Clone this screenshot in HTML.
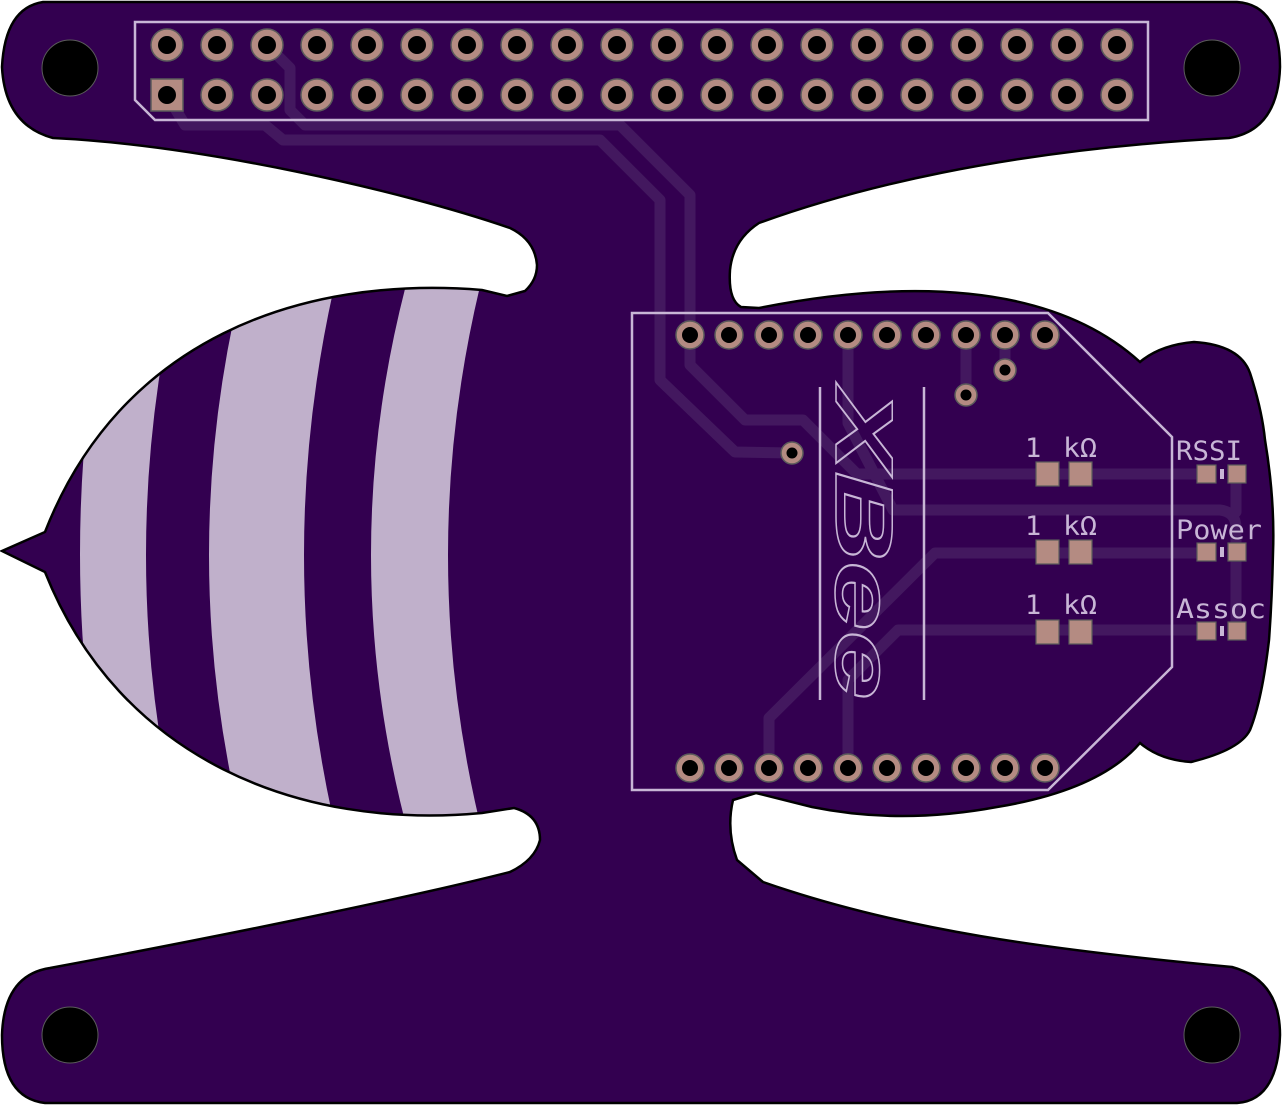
<!DOCTYPE html>
<html><head><meta charset="utf-8"><style>
html,body{margin:0;padding:0;background:#fff;}
svg{display:block;}
</style></head><body>
<svg width="1282" height="1105" viewBox="0 0 1282 1105" xmlns="http://www.w3.org/2000/svg">
<defs>
<clipPath id="bd"><path id="bp" d="M43,2 L1237,2 Q1280,5 1280,67 Q1278,130 1229,138 C1000,150 850,190 759,223 Q733,240 730,270 Q728,300 741,307 L759,308 C900,280 1050,280 1140,362 Q1160,345 1194,342 Q1240,345 1250,373 Q1262,410 1265,440 Q1275,500 1273,553 Q1272,600 1269,640 Q1262,700 1250,730 Q1240,750 1191,762 Q1160,760 1140,743 Q1100,790 997,807 Q900,825 812,807 L756,793 L733,800 Q726,830 737,860 L763,882 C900,930 1050,950 1232,967 Q1280,980 1280,1035 Q1278,1100 1237,1103 L45,1103 Q2,1098 2,1035 Q4,975 50,968 C200,940 400,900 510,872 Q535,860 540,840 Q540,815 514,808 L482,813 C300,830 120,760 45,572 L2,551 L45,532 C120,340 300,275 482,290 L507,296 L525,291 Q537,280 537,265 Q535,240 510,228 C400,190 200,145 53,138 Q5,125 2,67 Q5,8 43,2 Z"/></clipPath>
</defs>
<use href="#bp" fill="#330050"/>
<g clip-path="url(#bd)" fill="#c0b0cb">
<path d="M110 270 Q50 553 110 840 L180 840 Q112 555 180 270 Z"/>
<path d="M245 270 Q173 555 245 840 L338 840 Q270 555 338 270 Z"/>
<path d="M410 270 Q332 555 410 840 L484 840 Q412 555 484 270 Z"/>
</g>
<use href="#bp" fill="none" stroke="#000" stroke-width="2.5"/>

<g fill="none" stroke="#43185f" stroke-width="11" stroke-linejoin="round" stroke-linecap="round">
<path d="M167,95 L185,125 L265,125 L283,140 L600,140 L660,200 L660,380 L735,452 L792,453"/>
<path d="M267,45 L290,68 L290,110 L305,125 L620,125 L690,195 L690,365 L745,420 L803,420 L857,474 L1207,474"/>
<path d="M848,335 L848,423 L893,510 L1220,510 Q1236,512 1236,528 L1236,632"/>
<path d="M769,768 L769,718 L935,553 L1207,553"/>
<path d="M848,768 L848,680 L898,630 L1207,630"/>
<path d="M966,335 L966,395"/>
<path d="M1005,335 L1005,370"/>
<path d="M1236,474 L1236,512"/>
</g>

<g fill="none" stroke="#c8b6d6" stroke-width="2.5">
<path d="M135,22 L1148,22 L1148,120 L155,120 L135,100 Z"/>
<path d="M632,313 L1048,313 L1172,437 L1172,667 L1048,790 L632,790 Z"/>
<line x1="820" y1="387" x2="820" y2="700"/>
<line x1="924" y1="387" x2="924" y2="700"/>
</g>
<text transform="translate(836,388) rotate(90)" font-family="Liberation Sans, sans-serif" font-weight="bold" font-style="italic" font-size="82" fill="none" stroke="#c8b6d6" stroke-width="1.5" textLength="312" lengthAdjust="spacingAndGlyphs">XBee</text>

<g font-family="DejaVu Sans Mono, Liberation Mono, monospace" font-size="27" fill="#c8b6d6">
<text x="1025" y="457">1</text><text x="1063" y="457" textLength="34" lengthAdjust="spacingAndGlyphs">kΩ</text>
<text x="1025" y="535">1</text><text x="1063" y="535" textLength="34" lengthAdjust="spacingAndGlyphs">kΩ</text>
<text x="1025" y="614">1</text><text x="1063" y="614" textLength="34" lengthAdjust="spacingAndGlyphs">kΩ</text>
<text x="1176" y="460" textLength="66" lengthAdjust="spacingAndGlyphs">RSSI</text>
<text x="1176" y="539" textLength="86" lengthAdjust="spacingAndGlyphs">Power</text>
<text x="1176" y="618" textLength="90" lengthAdjust="spacingAndGlyphs">Assoc</text>
</g>

<g fill="#b48b82" stroke="#5b5b5b" stroke-width="1.2">
<rect x="1036" y="462" width="23" height="24"/><rect x="1069" y="462" width="23" height="24"/>
<rect x="1036" y="540" width="23" height="24"/><rect x="1069" y="540" width="23" height="24"/>
<rect x="1036" y="620" width="23" height="24"/><rect x="1069" y="620" width="23" height="24"/>
<rect x="1197" y="465" width="19" height="18"/><rect x="1228" y="465" width="18" height="18"/>
<rect x="1197" y="543" width="19" height="18"/><rect x="1228" y="543" width="18" height="18"/>
<rect x="1197" y="622" width="19" height="18"/><rect x="1228" y="622" width="18" height="18"/>
</g>
<g fill="#c8b6d6">
<rect x="1220" y="469" width="4" height="10"/><rect x="1220" y="547" width="4" height="10"/><rect x="1220" y="626" width="4" height="10"/>
</g>

<g fill="#000" stroke="#5b5b5b" stroke-width="1">
<circle cx="70" cy="68" r="28"/><circle cx="1212" cy="68" r="28"/>
<circle cx="70" cy="1035" r="28"/><circle cx="1212" cy="1035" r="28"/>
</g>

<g fill="#b48b82" stroke="#5b5b5b" stroke-width="1.5">
<rect x="151" y="79" width="32" height="32"/>
<circle cx="167" cy="45" r="16"/><circle cx="217" cy="45" r="16"/><circle cx="267" cy="45" r="16"/><circle cx="317" cy="45" r="16"/><circle cx="367" cy="45" r="16"/><circle cx="417" cy="45" r="16"/><circle cx="467" cy="45" r="16"/><circle cx="517" cy="45" r="16"/><circle cx="567" cy="45" r="16"/><circle cx="617" cy="45" r="16"/><circle cx="667" cy="45" r="16"/><circle cx="717" cy="45" r="16"/><circle cx="767" cy="45" r="16"/><circle cx="817" cy="45" r="16"/><circle cx="867" cy="45" r="16"/><circle cx="917" cy="45" r="16"/><circle cx="967" cy="45" r="16"/><circle cx="1017" cy="45" r="16"/><circle cx="1067" cy="45" r="16"/><circle cx="1117" cy="45" r="16"/>
<circle cx="217" cy="95" r="16"/><circle cx="267" cy="95" r="16"/><circle cx="317" cy="95" r="16"/><circle cx="367" cy="95" r="16"/><circle cx="417" cy="95" r="16"/><circle cx="467" cy="95" r="16"/><circle cx="517" cy="95" r="16"/><circle cx="567" cy="95" r="16"/><circle cx="617" cy="95" r="16"/><circle cx="667" cy="95" r="16"/><circle cx="717" cy="95" r="16"/><circle cx="767" cy="95" r="16"/><circle cx="817" cy="95" r="16"/><circle cx="867" cy="95" r="16"/><circle cx="917" cy="95" r="16"/><circle cx="967" cy="95" r="16"/><circle cx="1017" cy="95" r="16"/><circle cx="1067" cy="95" r="16"/><circle cx="1117" cy="95" r="16"/>
<circle cx="690" cy="335" r="14"/><circle cx="729" cy="335" r="14"/><circle cx="769" cy="335" r="14"/><circle cx="808" cy="335" r="14"/><circle cx="848" cy="335" r="14"/><circle cx="887" cy="335" r="14"/><circle cx="926" cy="335" r="14"/><circle cx="966" cy="335" r="14"/><circle cx="1005" cy="335" r="14"/><circle cx="1045" cy="335" r="14"/>
<circle cx="690" cy="768" r="14"/><circle cx="729" cy="768" r="14"/><circle cx="769" cy="768" r="14"/><circle cx="808" cy="768" r="14"/><circle cx="848" cy="768" r="14"/><circle cx="887" cy="768" r="14"/><circle cx="926" cy="768" r="14"/><circle cx="966" cy="768" r="14"/><circle cx="1005" cy="768" r="14"/><circle cx="1045" cy="768" r="14"/>
<circle cx="1005" cy="370" r="11"/><circle cx="966" cy="395" r="11"/><circle cx="792" cy="453" r="11"/>
</g>
<g fill="#000">
<circle cx="167" cy="45" r="9"/><circle cx="217" cy="45" r="9"/><circle cx="267" cy="45" r="9"/><circle cx="317" cy="45" r="9"/><circle cx="367" cy="45" r="9"/><circle cx="417" cy="45" r="9"/><circle cx="467" cy="45" r="9"/><circle cx="517" cy="45" r="9"/><circle cx="567" cy="45" r="9"/><circle cx="617" cy="45" r="9"/><circle cx="667" cy="45" r="9"/><circle cx="717" cy="45" r="9"/><circle cx="767" cy="45" r="9"/><circle cx="817" cy="45" r="9"/><circle cx="867" cy="45" r="9"/><circle cx="917" cy="45" r="9"/><circle cx="967" cy="45" r="9"/><circle cx="1017" cy="45" r="9"/><circle cx="1067" cy="45" r="9"/><circle cx="1117" cy="45" r="9"/>
<circle cx="167" cy="95" r="9"/><circle cx="217" cy="95" r="9"/><circle cx="267" cy="95" r="9"/><circle cx="317" cy="95" r="9"/><circle cx="367" cy="95" r="9"/><circle cx="417" cy="95" r="9"/><circle cx="467" cy="95" r="9"/><circle cx="517" cy="95" r="9"/><circle cx="567" cy="95" r="9"/><circle cx="617" cy="95" r="9"/><circle cx="667" cy="95" r="9"/><circle cx="717" cy="95" r="9"/><circle cx="767" cy="95" r="9"/><circle cx="817" cy="95" r="9"/><circle cx="867" cy="95" r="9"/><circle cx="917" cy="95" r="9"/><circle cx="967" cy="95" r="9"/><circle cx="1017" cy="95" r="9"/><circle cx="1067" cy="95" r="9"/><circle cx="1117" cy="95" r="9"/>
<circle cx="690" cy="335" r="8"/><circle cx="729" cy="335" r="8"/><circle cx="769" cy="335" r="8"/><circle cx="808" cy="335" r="8"/><circle cx="848" cy="335" r="8"/><circle cx="887" cy="335" r="8"/><circle cx="926" cy="335" r="8"/><circle cx="966" cy="335" r="8"/><circle cx="1005" cy="335" r="8"/><circle cx="1045" cy="335" r="8"/>
<circle cx="690" cy="768" r="8"/><circle cx="729" cy="768" r="8"/><circle cx="769" cy="768" r="8"/><circle cx="808" cy="768" r="8"/><circle cx="848" cy="768" r="8"/><circle cx="887" cy="768" r="8"/><circle cx="926" cy="768" r="8"/><circle cx="966" cy="768" r="8"/><circle cx="1005" cy="768" r="8"/><circle cx="1045" cy="768" r="8"/>
<circle cx="1005" cy="370" r="5.5"/><circle cx="966" cy="395" r="5.5"/><circle cx="792" cy="453" r="5.5"/>
</g>
</svg>
</body></html>
